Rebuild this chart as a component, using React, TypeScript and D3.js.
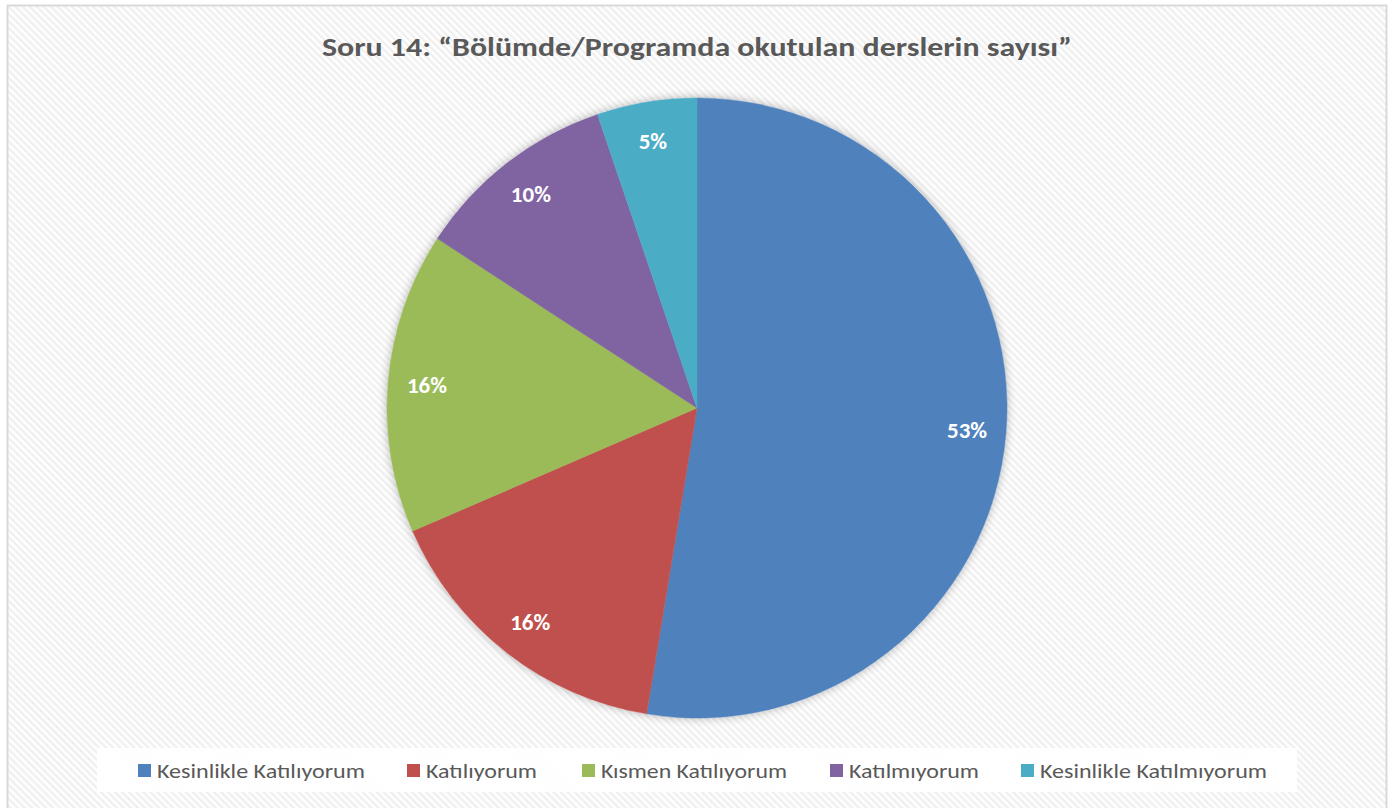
import React, { useRef, useEffect } from 'react';
import * as d3 from 'd3';

const categories = [
  'Kesinlikle Katılıyorum',
  'Katılıyorum',
  'Kısmen Katılıyorum',
  'Katılmıyorum',
  'Kesinlikle Katılmıyorum',
];
const values = [52.6, 15.9, 15.7, 10.6, 5.2];
const labels = ['53%', '16%', '16%', '10%', '5%'];
const colors = ['#4f81bd', '#c0504d', '#9bbb59', '#8064a2', '#4bacc6'];
const title = 'Soru 14: “Bölümde/Programda okutulan derslerin sayısı”';

export default function App() {
  const svgRef = useRef<SVGSVGElement>(null);

  useEffect(() => {
    const svg = d3.select(svgRef.current);
    svg.selectAll('*').remove();
    const width = 1398;
    const height = 808;
    const cx = 697;
    const cy = 408;
    const radius = 310;
    const font = 'Carlito, Calibri, "Open Sans", "Liberation Sans", sans-serif';

    const defs = svg.append('defs');
    const pat = defs.append('pattern')
      .attr('id', 'stripes')
      .attr('patternUnits', 'userSpaceOnUse')
      .attr('width', 5)
      .attr('height', 5)
      .attr('patternTransform', 'rotate(-45)');
    pat.append('rect').attr('width', 5).attr('height', 5).attr('fill', '#ffffff');
    pat.append('rect').attr('width', 2.5).attr('height', 5).attr('fill', '#f0f0f0');

    const shadow = defs.append('filter')
      .attr('id', 'glow')
      .attr('x', '-20%').attr('y', '-20%')
      .attr('width', '140%').attr('height', '140%');
    shadow.append('feGaussianBlur').attr('in', 'SourceAlpha').attr('stdDeviation', 5).attr('result', 'b');
    shadow.append('feComponentTransfer').attr('in', 'b').attr('result', 'c')
      .append('feFuncA').attr('type', 'linear').attr('slope', 0.3);
    const merge = shadow.append('feMerge');
    merge.append('feMergeNode').attr('in', 'c');
    merge.append('feMergeNode').attr('in', 'SourceGraphic');

    // background + border
    svg.append('rect')
      .attr('x', 0).attr('y', 0).attr('width', width).attr('height', height)
      .attr('fill', '#ffffff');
    svg.append('rect')
      .attr('x', 7.5).attr('y', 5.5).attr('width', 1379).attr('height', 805)
      .attr('fill', 'url(#stripes)')
      .attr('stroke', '#d9d9d9')
      .attr('stroke-width', 2);

    // title
    svg.append('text')
      .attr('x', cx)
      .attr('y', 56)
      .attr('text-anchor', 'middle')
      .attr('font-family', font)
      .attr('font-weight', 'bold')
      .attr('font-size', 27)
      .attr('fill', '#595959')
      .attr('textLength', 750)
      .attr('lengthAdjust', 'spacingAndGlyphs')
      .text(title);

    // pie
    const data = categories.map((c, i) => ({ name: c, value: values[i], label: labels[i], color: colors[i] }));
    const pie = d3.pie<any>().sort(null).value(d => d.value);
    const arc = d3.arc<any>().innerRadius(0).outerRadius(radius);
    const labelArc = d3.arc<any>().innerRadius(271).outerRadius(271);
    const arcs = pie(data);

    const g = svg.append('g').attr('transform', `translate(${cx},${cy})`);
    g.append('circle').attr('r', radius).attr('fill', '#ffffff').attr('filter', 'url(#glow)');
    g.selectAll('path.slice')
      .data(arcs)
      .enter()
      .append('path')
      .attr('class', 'slice')
      .attr('d', arc)
      .attr('fill', d => d.data.color)
      .attr('stroke', d => d.data.color)
      .attr('stroke-width', 0.5);

    g.selectAll('text.lbl')
      .data(arcs)
      .enter()
      .append('text')
      .attr('class', 'lbl')
      .attr('transform', d => `translate(${labelArc.centroid(d)})`)
      .attr('text-anchor', 'middle')
      .attr('dy', '0.35em')
      .attr('font-family', font)
      .attr('font-weight', 'bold')
      .attr('font-size', 23)
      .attr('fill', '#ffffff')
      .text(d => d.data.label);

    // legend
    svg.append('rect')
      .attr('x', 97).attr('y', 748).attr('width', 1200).attr('height', 44)
      .attr('fill', '#ffffff')
      .attr('opacity', 0.9);
    const legendX = [138, 407, 582, 830, 1021];
    const legendW = [208, 111, 186, 130, 227];
    const lg = svg.append('g');
    data.forEach((d, i) => {
      lg.append('rect')
        .attr('x', legendX[i]).attr('y', 764)
        .attr('width', 13).attr('height', 13)
        .attr('fill', d.color);
      lg.append('text')
        .attr('x', legendX[i] + 19)
        .attr('y', 778)
        .attr('font-family', font)
        .attr('font-size', 21)
        .attr('fill', '#595959')
        .attr('textLength', legendW[i])
        .attr('lengthAdjust', 'spacingAndGlyphs')
        .text(d.name);
    });
  }, []);

  return (
    <svg
      ref={svgRef}
      width={1398}
      height={808}
      style={{ position: 'absolute', left: 0, top: 0, display: 'block' }}
    />
  );
}
